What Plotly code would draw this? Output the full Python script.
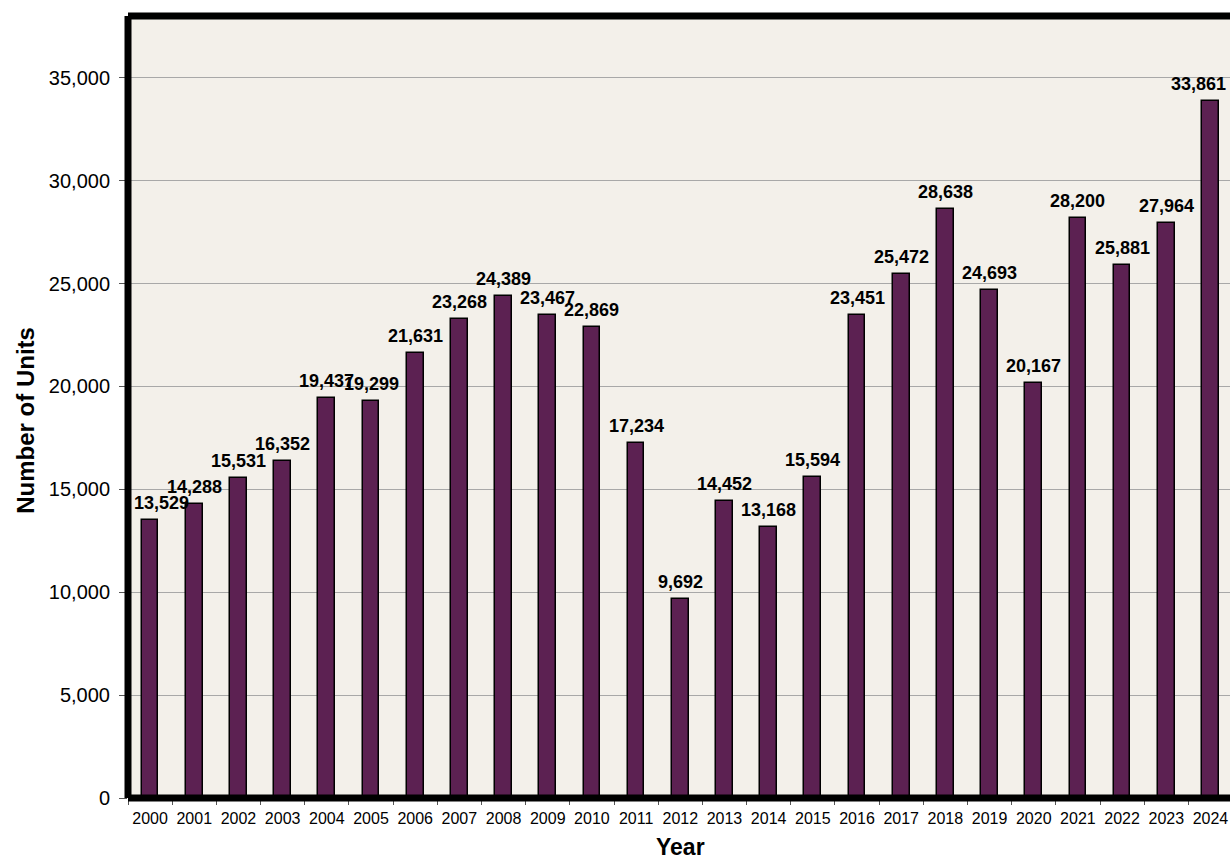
import plotly.graph_objects as go

years = [str(y) for y in range(2000, 2025)]
units = [13529, 14288, 15531, 16352, 19437, 19299, 21631, 23268, 24389, 23467,
         22869, 17234, 9692, 14452, 13168, 15594, 23451, 25472, 28638, 24693,
         20167, 28200, 25881, 27964, 33861]
y_ticks = [0, 5000, 10000, 15000, 20000, 25000, 30000, 35000]
y_tick_text = [f"{v:,}" for v in y_ticks]

FONT = "Arial, Liberation Sans, sans-serif"
BAR = "#5C2152"
BG = "#F3F0EA"

# plot-area geometry (pixels)
W, H = 1230, 860
LEFT, TOP, BOTTOM = 128.3, 15.5, 798.3
SLOT = 44.17
plot_w = W - LEFT
x_hi = -0.5 + plot_w / SLOT

fig = go.Figure()
fig.add_trace(go.Bar(
    x=years, y=units, width=0.38,
    marker=dict(color=BAR, line=dict(color="#000000", width=1.5)),
    hoverinfo="x+y",
))

# value labels (placed by category index); end labels nudged to stay inside the frame
nudge = {"2000": 11, "2024": -12}
for i, (yr, v) in enumerate(zip(years, units)):
    fig.add_annotation(
        x=i, y=v, text=f"<b>{v:,}</b>", showarrow=False,
        yanchor="bottom", yshift=5, xshift=nudge.get(yr, 0),
        font=dict(family=FONT, size=18, color="#000000"),
    )

# axis titles
fig.add_annotation(
    xref="paper", yref="paper", x=(25 - LEFT) / plot_w, y=(BOTTOM - 420) / (BOTTOM - TOP),
    text="<b>Number of Units</b>", textangle=-90, showarrow=False,
    xanchor="center", yanchor="middle",
    font=dict(family=FONT, size=24, color="#000000"),
)
fig.add_annotation(
    xref="paper", yref="paper", x=(681 - LEFT) / plot_w, y=(BOTTOM - 832) / (BOTTOM - TOP),
    text="<b>Year</b>", showarrow=False, xanchor="center", yanchor="top",
    font=dict(family=FONT, size=23, color="#000000"),
)

# heavy frame: top, left and bottom edges
for x0, y0, x1, y1 in [(0, 1, 1.01, 1), (0, 0, 0, 1), (0, 0, 1.01, 0)]:
    fig.add_shape(type="line", xref="paper", yref="paper", x0=x0, y0=y0, x1=x1, y1=y1,
                  line=dict(color="#000000", width=7), layer="above")

fig.update_layout(
    width=W, height=H,
    margin=dict(l=LEFT, r=0, t=TOP, b=H - BOTTOM, pad=0),
    paper_bgcolor="#FFFFFF", plot_bgcolor=BG,
    showlegend=False, bargap=0,
    font=dict(family=FONT, color="#000000"),
)
fig.update_xaxes(
    type="category", range=[-0.5, x_hi],
    showgrid=False, zeroline=False, showline=False,
    ticks="outside", tickson="boundaries", ticklen=6, tickcolor="#555555", tickwidth=1,
    tickangle=0, ticklabelstandoff=9,
    tickfont=dict(family=FONT, size=16, color="#000000"),
)
fig.update_yaxes(
    range=[0, 38000], tickvals=y_ticks, ticktext=y_tick_text,
    showgrid=True, gridcolor="#A8A8A8", gridwidth=1.3,
    zeroline=False, showline=False,
    ticks="outside", ticklen=8, tickcolor="#555555", tickwidth=1,
    ticklabelstandoff=5,
    tickfont=dict(family=FONT, size=20, color="#000000"),
)

fig.write_html("out.html")
